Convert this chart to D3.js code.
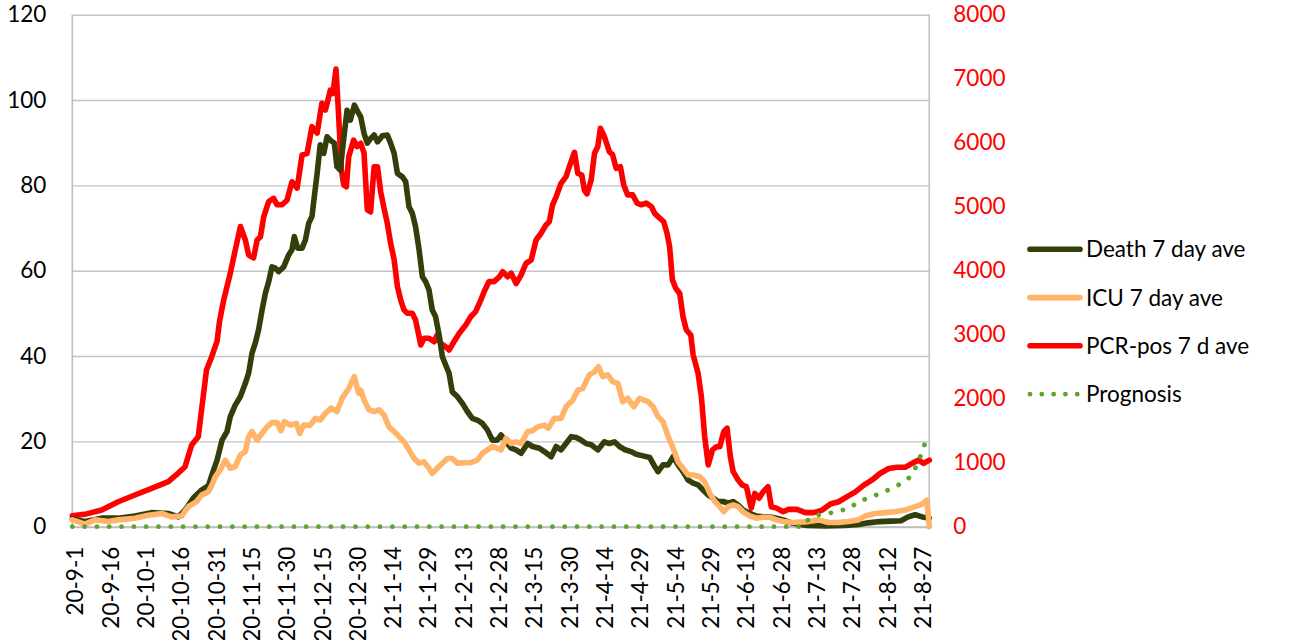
<!DOCTYPE html>
<html>
<head>
<meta charset="utf-8">
<script src="https://cdn.jsdelivr.net/npm/d3@7"></script>
<style>
  html, body { margin: 0; padding: 0; background: #fff; }
  svg { display: block; font-family: Lato, "Open Sans", sans-serif; }
</style>
</head>
<body>
<svg id="chart" width="1297" height="640"></svg>
<script>
// ---- data (day index from 2020-09-01, value) ----
const tickDays = [0,15,30,45,60,75,90,105,120,135,150,165,180,195,210,225,240,255,270,285,300,315,330,345,360];
const tickLabels = ["20-9-1","20-9-16","20-10-1","20-10-16","20-10-31","20-11-15","20-11-30","20-12-15","20-12-30",
  "21-1-14","21-1-29","21-2-13","21-2-28","21-3-15","21-3-30","21-4-14","21-4-29","21-5-14","21-5-29",
  "21-6-13","21-6-28","21-7-13","21-7-28","21-8-12","21-8-27"];
const leftTicks = [0,20,40,60,80,100,120];
const rightTicks = [0,1000,2000,3000,4000,5000,6000,7000,8000];
const seriesNames = ["Death 7 day ave","ICU 7 day ave","PCR-pos 7 d ave","Prognosis"];

const pcrPos = [[0,170],[6,200],[12.5,260],[19.5,390],[26.6,495],[33.7,600],[40.8,703],[45,838],[47.9,938],[50.7,1277],[53.5,1406],[54.9,1823],[57,2448],[59.2,2656],[61.5,2900],[62.5,3200],[64.3,3540],[67.1,3960],[69.2,4320],[71.4,4690],[73.5,4480],[74.9,4245],[77,4200],[78.5,4480],[79.9,4530],[81.3,4840],[83.4,5080],[85.5,5130],[87,5030],[89.1,5030],[91.2,5100],[93.3,5390],[95.5,5290],[97.6,5810],[99.7,5830],[101.8,6250],[104,6150],[106,6615],[107.5,6510],[109.6,6820],[110.7,6770],[112,7150],[113,6510],[114.3,5570],[115.3,5340],[116.4,5310],[117.4,5780],[119.5,6040],[121,5940],[122.5,5990],[123.9,5840],[125.3,4950],[126.7,4920],[128.2,5625],[129.6,5625],[131,5230],[132.4,4975],[133.8,4740],[135.2,4430],[136.7,4170],[138.1,3750],[139.5,3540],[140.9,3385],[142.3,3335],[144.4,3335],[145.8,3230],[147.3,2970],[148,2840],[149.4,2945],[151.5,2945],[153.7,2890],[155,2995],[156.5,2865],[158.6,2810],[160,2760],[162.1,2890],[164.3,3020],[167.1,3150],[169.2,3280],[171.3,3360],[173.5,3540],[174.9,3670],[177,3830],[179.1,3830],[181.4,3905],[182.8,3985],[184.9,3905],[186.4,3960],[188.5,3800],[190.6,3930],[192.7,4115],[194.9,4170],[197,4480],[199.1,4585],[201.2,4715],[202.6,4765],[204,5030],[205.5,5155],[207.6,5365],[209.7,5470],[211.1,5625],[213.3,5850],[214.7,5520],[216.4,5495],[217.5,5260],[218.6,5200],[220.4,5420],[221.8,5835],[223.2,5940],[224.3,6225],[226,6095],[228.1,5860],[229.5,5810],[231,5600],[232.8,5625],[234.2,5340],[235.9,5185],[238,5185],[239.9,5055],[241.7,5030],[243.8,5055],[246,5000],[247.4,4895],[249.5,4820],[251.2,4765],[252.6,4585],[253.7,4375],[254.9,3855],[256.3,3725],[258,3645],[259.4,3280],[260.8,3075],[262.7,2995],[263.7,2685],[265.8,2395],[267.2,2030],[268.6,1405],[270.1,965],[271.9,1200],[273.6,1250],[275,1250],[276.7,1485],[278.1,1540],[279.5,1095],[280.7,860],[282.8,730],[284.6,650],[286.3,625],[288.4,290],[289.9,520],[291.7,445],[293.4,545],[295.5,625],[296.9,312],[299.1,290],[301.9,235],[304.3,270],[307.8,270],[311.4,220],[314.9,220],[318.5,260],[322,355],[325.5,390],[329.1,470],[332.6,545],[336.2,650],[339.7,730],[343.2,835],[346.8,910],[350.3,930],[353.9,930],[356.7,990],[359.5,1040],[361.6,990],[364,1040]];

const death = [[0,1.8],[5.4,1.2],[12.5,2.0],[19.5,2.0],[26.6,2.5],[33.7,3.3],[40.8,3.1],[45,2.3],[47.9,3.9],[51.4,6.7],[54.9,8.6],[57.8,9.6],[59.5,12.5],[61.5,15.6],[63.6,20.3],[65.7,22.3],[67.1,25.8],[69.2,28.5],[71.4,30.5],[73.5,33.6],[74.9,36.0],[76.3,40.6],[77.7,43.0],[79.1,46.1],[80.6,50.8],[82,54.7],[83.4,57.4],[84.8,60.9],[86.2,60.6],[87.6,59.8],[89.8,60.9],[91.9,63.7],[93.3,64.9],[94.3,68.0],[95.7,65.3],[97.6,65.3],[99,67.2],[100.4,71.1],[101.8,72.7],[102.8,77.4],[104,82.8],[105.3,89.5],[106.8,87.5],[108.2,91.4],[109.6,90.6],[111.3,89.9],[112.4,84.4],[113.8,83.6],[115.3,91.0],[116.7,97.6],[118.1,95.3],[119.8,98.8],[121.6,96.9],[122.5,96.1],[123.9,92.2],[125.3,89.9],[126.7,91.0],[128.2,91.8],[129.6,90.2],[131.7,91.6],[133.8,91.8],[135.2,89.9],[136.7,87.5],[138.1,82.8],[140.2,82.0],[141.6,80.9],[143,75.0],[144.4,73.5],[145.8,70.3],[147.3,64.9],[148.7,58.6],[150.1,57.4],[151.5,55.5],[152.9,50.8],[154.3,49.2],[155.8,44.9],[157.2,39.8],[158.6,37.9],[160,36.0],[161.4,31.6],[163.5,30.5],[165.7,28.9],[167.8,27.0],[169.9,25.4],[172,25.0],[174.2,24.2],[176.3,22.7],[178.4,20.3],[180.5,20.3],[182.1,21.5],[184.2,19.9],[186.4,18.4],[188.5,18.0],[190.6,17.2],[193.4,19.5],[195.5,18.8],[198.4,18.4],[200.5,17.6],[203.4,16.4],[205.5,18.8],[207.6,18.0],[209.7,19.5],[211.9,21.1],[214,20.9],[216.1,20.3],[218.2,19.5],[220.4,19.2],[223.2,18.0],[226,19.9],[228.1,19.5],[230.3,19.9],[232.4,18.8],[234.5,18.1],[237.3,17.6],[239.5,17.0],[242.4,16.6],[245.3,16.2],[247.4,14.1],[248.8,12.9],[250.9,14.5],[253.1,14.5],[255.2,16.4],[257.3,14.5],[259.4,12.9],[261.6,10.9],[263.7,10.2],[265.8,9.8],[267.9,8.6],[270.1,7.4],[272.2,6.7],[274.3,5.9],[276.4,5.9],[278.6,5.5],[280.7,5.9],[282.8,5.1],[284.9,3.9],[287.8,3.1],[290.6,2.5],[293.4,2.3],[296.3,2.3],[299.1,2.0],[301.9,1.6],[306,0.8],[312,0.3],[320,0.2],[328,0.3],[334,0.5],[338,0.9],[343,1.2],[348,1.3],[352,1.4],[355,2.3],[358,2.8],[361,2.3],[364,2.0]];

const icu = [[0,1.6],[5.4,0.6],[9.6,1.6],[15.3,1.2],[19.5,1.6],[26.6,2.0],[32.3,2.7],[37.9,3.1],[42.2,2.3],[46.4,2.5],[49.3,4.7],[52.8,5.9],[54.9,7.4],[57.8,8.2],[59.5,10.0],[60.7,11.7],[62.8,13.3],[65,15.6],[67.1,13.7],[69.2,14.1],[71.4,16.8],[73.5,17.6],[74.9,21.1],[76.3,22.3],[78.5,20.3],[80.6,21.9],[82.7,23.4],[84.8,24.4],[87,24.4],[88.6,22.5],[90.1,24.6],[92.6,23.8],[95.2,24.2],[96.6,21.9],[98.3,23.8],[101.1,23.8],[103.2,25.4],[105.3,25.0],[107.5,26.6],[109.9,27.8],[112.4,27.0],[114.6,30.1],[117.4,32.4],[119.8,35.2],[121.6,31.3],[122.5,32.0],[123.9,29.7],[126,27.4],[128.2,27.0],[130.3,27.4],[132.4,26.2],[134.5,23.4],[136.7,22.3],[138.8,21.1],[140.9,19.9],[143,18.0],[145.2,16.0],[147.3,14.9],[149.4,15.2],[151.5,13.7],[152.9,12.5],[155,13.7],[157.2,14.9],[159.3,16.0],[161.4,16.0],[163.5,14.9],[166.4,15.0],[169.2,15.0],[172,15.6],[174.2,17.2],[176.3,18.0],[178.4,18.8],[180.5,18.4],[182.1,18.0],[184.2,20.7],[186.4,19.5],[188.5,19.9],[190.6,19.5],[193.4,22.3],[195.5,22.5],[197.7,23.4],[200.5,23.8],[202.2,23.1],[204.8,25.4],[207.6,25.4],[209.7,28.1],[212.6,29.7],[214.7,32.0],[216.8,32.4],[219.6,35.6],[221.8,36.3],[223.5,37.5],[225.3,35.2],[227.4,35.6],[229.5,34.0],[231.7,33.6],[233.8,29.3],[235.9,30.1],[238.5,28.1],[240.9,30.1],[242.7,29.7],[244.6,29.3],[246.7,28.1],[248.8,25.8],[250.9,24.6],[253.1,21.1],[255.2,18.4],[257.3,15.2],[259.4,13.7],[261.6,12.1],[263.7,12.1],[266.5,11.7],[268.6,10.5],[270.8,7.8],[272.9,5.9],[275,4.7],[276.7,3.5],[278.6,4.7],[280.7,5.1],[282.8,4.7],[284.9,3.5],[287.8,2.5],[290.6,2.0],[293.4,2.2],[296.3,2.2],[299.1,1.6],[302,1.2],[306,1.0],[312.7,1.2],[316.9,1.6],[321.2,1.0],[325.4,1.0],[329.7,1.2],[333.9,1.6],[336.7,2.5],[341,3.1],[345.3,3.3],[349.5,3.5],[353.7,3.9],[358,4.7],[361,5.3],[363,6.2],[364,0]];

const prognosis = [[0,0],[310,0],[312,1.4],[316,2.7],[321,3.1],[325,3.6],[330,4.3],[334,5.9],[339,6.9],[343,7.8],[347.5,8.8],[352,10.1],[356,11.7],[358.4,14.1],[360.3,16.6],[362,19.3],[364,20.0]];

// ---- layout ----
const svg = d3.select("#chart");
const L = 72.3, R = 929.3, T = 14.7, B = 526.7;
const FS = "22.5px";

const x = d3.scaleLinear().domain([0, 364]).range([L, R]);
const yL = d3.scaleLinear().domain([0, 120]).range([B, T]);
const yR = d3.scaleLinear().domain([0, 8000]).range([B, T]);

svg.append("rect").attr("width", 1297).attr("height", 640).attr("fill", "#fff");

// gridlines
const grid = svg.append("g").attr("transform", `translate(${L},0)`)
  .call(d3.axisLeft(yL).tickValues(leftTicks).tickSize(-(R - L)).tickFormat(""));
grid.select(".domain").remove();
grid.selectAll("line").attr("stroke", "#C4C4C4").attr("stroke-width", 1.4);

// frame lines
svg.append("line").attr("x1", L).attr("x2", L).attr("y1", T).attr("y2", B)
  .attr("stroke", "#BFBFBF").attr("stroke-width", 1.6);
svg.append("line").attr("x1", R).attr("x2", R).attr("y1", T).attr("y2", B)
  .attr("stroke", "#BFBFBF").attr("stroke-width", 1.6);

// left axis
const la = svg.append("g").attr("transform", `translate(${L},0)`)
  .call(d3.axisLeft(yL).tickValues(leftTicks).tickSize(0).tickPadding(26).tickFormat(d3.format("d")));
la.select(".domain").remove();
la.selectAll("text").attr("font-size", FS).attr("font-family", "Lato").attr("fill", "#000");

// right axis
const ra = svg.append("g").attr("transform", `translate(${R},0)`)
  .call(d3.axisRight(yR).tickValues(rightTicks).tickSize(0).tickPadding(24).tickFormat(d3.format("d")));
ra.select(".domain").remove();
ra.selectAll("text").attr("font-size", FS).attr("font-family", "Lato").attr("fill", "#FF0000");

// bottom axis
const ba = svg.append("g").attr("transform", `translate(0,${B})`)
  .call(d3.axisBottom(x).tickValues(tickDays).tickSize(0).tickFormat((d, i) => tickLabels[i]));
ba.select(".domain").attr("stroke", "#BFBFBF").attr("stroke-width", 2);
ba.selectAll("text")
  .attr("font-size", FS).attr("font-family", "Lato").attr("fill", "#000")
  .attr("text-anchor", "end").attr("transform", "rotate(-90)")
  .attr("x", -20).attr("y", 10.5).attr("dy", 0);

// lines
const lineL = d3.line().x(d => x(d[0])).y(d => yL(d[1]));
const lineR = d3.line().x(d => x(d[0])).y(d => yR(d[1]));

const styles = [
  { color: "#333F0A", w: 5.6 },
  { color: "#FFB469", w: 5.6 },
  { color: "#FF0000", w: 5.6 },
  { color: "#5FA32B", w: 4.8 }
];

svg.append("path").datum(pcrPos).attr("d", lineR)
  .attr("fill", "none").attr("stroke", styles[2].color).attr("stroke-width", styles[2].w)
  .attr("stroke-linejoin", "round").attr("stroke-linecap", "round");
svg.append("path").datum(death).attr("d", lineL)
  .attr("fill", "none").attr("stroke", styles[0].color).attr("stroke-width", styles[0].w)
  .attr("stroke-linejoin", "round").attr("stroke-linecap", "round");
svg.append("path").datum(icu).attr("d", lineL)
  .attr("fill", "none").attr("stroke", styles[1].color).attr("stroke-width", styles[1].w)
  .attr("stroke-linejoin", "round").attr("stroke-linecap", "round");
svg.append("path").datum(prognosis).attr("d", lineL)
  .attr("fill", "none").attr("stroke", styles[3].color).attr("stroke-width", styles[3].w)
  .attr("stroke-linecap", "round").attr("stroke-dasharray", "0.01 12.3");

// legend
const legY = [249.3, 297.6, 345.7, 394.2];
const leg = svg.append("g").selectAll("g").data(seriesNames).join("g")
  .attr("transform", (d, i) => `translate(0,${legY[i]})`);
leg.append("line").attr("x1", 1030).attr("x2", 1080).attr("y1", 0).attr("y2", 0)
  .attr("stroke", (d, i) => styles[i].color)
  .attr("stroke-width", (d, i) => styles[i].w)
  .attr("stroke-linecap", "round")
  .attr("stroke-dasharray", (d, i) => i === 3 ? "0.01 11.8" : null);
leg.append("text").attr("x", 1086).attr("y", 0).attr("dy", "0.36em")
  .attr("font-size", FS).attr("font-family", "Lato").attr("fill", "#000")
  .text(d => d);
</script>
</body>
</html>
